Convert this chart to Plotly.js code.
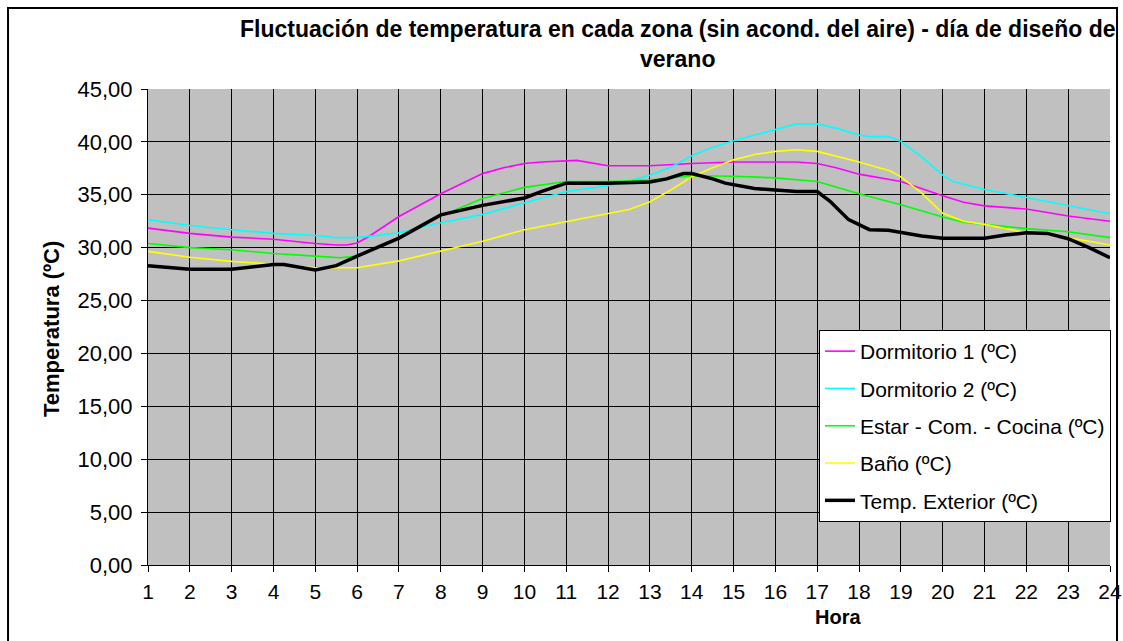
<!DOCTYPE html>
<html>
<head>
<meta charset="utf-8">
<script src="https://cdn.plot.ly/plotly-3.0.1.min.js"></script>
<style>
html,body{margin:0;padding:0;background:#fff;}
#chart{width:1123px;height:641px;}
</style>
</head>
<body>
<div id="chart"></div>
<script>
// Hours (x) and temperatures (°C)
const hourTicks = [1,2,3,4,5,6,7,8,9,10,11,12,13,14,15,16,17,18,19,20,21,22,23,24];

const dorm1Hours = [1,2,3,4,5,5.5,5.75,6,6.3,7,8,9,9.5,10,10.4,11,11.25,12,13,14,15,16,16.5,17,17.45,18,19,20,20.5,21,22,23,24];
const dorm1Temp  = [31.85,31.35,31.0,30.8,30.4,30.25,30.25,30.45,31.1,32.95,35.1,37.0,37.55,37.95,38.1,38.25,38.25,37.75,37.75,37.95,38.1,38.1,38.1,37.95,37.55,36.95,36.25,34.9,34.3,33.95,33.65,33.0,32.5];

const dorm2Hours = [1,2,3,4,5,5.5,6,6.4,7,7.6,8,9,10,10.4,11,12,12.5,13,13.5,14,14.5,15,15.5,16,16.5,17,17.45,18,18.25,18.7,19,19.5,20,20.25,21,22,23,24];
const dorm2Temp  = [32.65,32.1,31.7,31.35,31.15,30.95,30.95,31.15,31.4,32.0,32.35,33.15,34.2,34.65,35.3,35.85,36.3,36.85,37.6,38.7,39.5,40.1,40.65,41.2,41.7,41.7,41.3,40.65,40.5,40.5,40.05,38.55,36.85,36.25,35.5,34.75,33.95,33.2];

const estarHours = [1,2,3,4,5,5.6,6,7,8,9,10,10.4,11,12,13,14,15,16,17,18,19,20,20.5,21,22,23,24];
const estarTemp  = [30.4,30.0,29.8,29.45,29.2,29.05,29.2,30.95,33.0,34.65,35.7,35.9,36.25,36.25,36.4,36.8,36.75,36.6,36.25,35.1,34.05,32.9,32.4,32.2,31.8,31.5,30.95];

const banoHours = [1,2,3,4,5,6,7,8,9,10,10.4,11,12,12.5,13,13.5,14,14.5,15,15.5,16,16.5,17,17.45,18,18.75,19,19.5,20,20.5,21,22,22.5,23,24];
const banoTemp  = [29.65,29.1,28.7,28.45,28.1,28.1,28.75,29.7,30.6,31.7,32.0,32.5,33.2,33.6,34.35,35.45,36.7,37.55,38.3,38.8,39.1,39.25,39.1,38.65,38.1,37.25,36.7,35.15,33.25,32.5,32.2,31.4,31.25,30.95,30.25];

const extHours = [1,2,3,4,4.25,5,5.5,6,7,7.75,8,9,10,10.4,11,12,13,13.4,13.8,14,14.5,14.8,15.5,16,16.5,17,17.3,17.75,18.25,18.7,19,19.5,20,21,21.5,22,22.5,23,23.5,24];
const extTemp  = [28.3,27.95,27.95,28.4,28.4,27.9,28.3,29.2,30.9,32.6,33.1,34.0,34.7,35.3,36.1,36.1,36.2,36.5,37.0,37.0,36.5,36.1,35.6,35.45,35.3,35.3,34.4,32.65,31.7,31.65,31.45,31.1,30.9,30.9,31.2,31.4,31.35,30.85,30.0,29.05];

const seriesNames = ['Dormitorio 1 (ºC)','Dormitorio 2 (ºC)','Estar - Com. - Cocina (ºC)','Baño (ºC)','Temp. Exterior (ºC)'];
const chartTitle = 'Fluctuación de temperatura en cada zona (sin acond. del aire) - día de diseño de<br>verano';
const xTitle = 'Hora';
const yTitle = 'Temperatura (ºC)';

const FONT = 'Arial, "Liberation Sans", sans-serif';

function tr(x, y, name, color, width) {
  return {x: x, y: y, name: name, type: 'scatter', mode: 'lines',
          line: {color: color, width: width}, legendgroup: name,
          hoverinfo: 'x+y+name'};
}

const data = [
  tr(dorm1Hours, dorm1Temp, seriesNames[0], '#ff00ff', 1.6),
  tr(dorm2Hours, dorm2Temp, seriesNames[1], '#00ffff', 1.6),
  tr(estarHours, estarTemp, seriesNames[2], '#00ff00', 1.6),
  tr(banoHours, banoTemp, seriesNames[3], '#ffff00', 1.6),
  tr(extHours, extTemp, seriesNames[4], '#000000', 3.5)
];

const layout = {
  width: 1123, height: 641,
  margin: {l: 148, r: 13, t: 89, b: 76, pad: 0},
  paper_bgcolor: '#ffffff',
  plot_bgcolor: '#c0c0c0',
  separators: ',.',
  font: {family: FONT, size: 21, color: '#000'},
  showlegend: true,
  legend: {
    x: 1.001, y: 0.4937, xanchor: 'right', yanchor: 'top',
    bgcolor: '#ffffff', bordercolor: '#000', borderwidth: 1,
    font: {family: FONT, size: 21, color: '#000'},
    tracegroupgap: 7, traceorder: 'grouped'
  },
  xaxis: {
    range: [1, 24], tickmode: 'array', tickvals: hourTicks, ticktext: hourTicks.map(String),
    showgrid: true, gridcolor: '#000', gridwidth: 1,
    showline: true, linecolor: '#000', linewidth: 1,
    ticks: 'outside', ticklen: 6, tickcolor: '#000',
    ticklabelstandoff: 2,
    zeroline: false,
    tickfont: {family: FONT, size: 21, color: '#000'}
  },
  yaxis: {
    range: [0, 45], dtick: 5, tick0: 0, tickformat: '.2f',
    showgrid: true, gridcolor: '#000', gridwidth: 1,
    showline: true, linecolor: '#000', linewidth: 1,
    ticks: 'outside', ticklen: 6, tickcolor: '#000',
    ticklabelstandoff: 4,
    zeroline: false,
    tickfont: {family: FONT, size: 22, color: '#000'}
  },
  annotations: [
    {
      xref: 'paper', yref: 'paper', x: 0.5499, y: 1.0945, xanchor: 'center', yanchor: 'middle',
      text: '<b>' + chartTitle + '</b>', showarrow: false, align: 'center',
      font: {family: FONT, size: 23, color: '#000'}
    },
    {
      xref: 'paper', yref: 'paper', x: 0.717, y: -0.1092, xanchor: 'center', yanchor: 'middle',
      text: '<b>' + xTitle + '</b>', showarrow: false,
      font: {family: FONT, size: 20, color: '#000'}
    },
    {
      xref: 'paper', yref: 'paper', x: -0.0998, y: 0.4958, xanchor: 'center', yanchor: 'middle',
      text: '<b>' + yTitle + '</b>', showarrow: false, textangle: -90,
      font: {family: FONT, size: 22, color: '#000'}
    }
  ],
  shapes: [{
    type: 'rect', xref: 'paper', yref: 'paper',
    x0: -0.1455, x1: 1.0073, y0: -0.17, y1: 1.1702,
    line: {color: '#000', width: 2}, fillcolor: 'rgba(0,0,0,0)', layer: 'above'
  }]
};

Plotly.newPlot('chart', data, layout, {displayModeBar: false, staticPlot: true});
</script>
</body>
</html>
